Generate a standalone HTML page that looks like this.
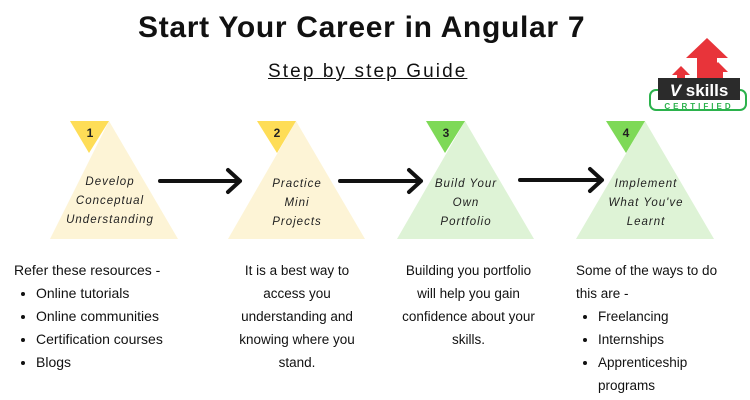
<!DOCTYPE html>
<html><head><meta charset="utf-8"><style>
body{margin:0;width:750px;height:400px;background:#fff;overflow:hidden;font-family:"Liberation Sans",sans-serif;color:#111}
.t{position:absolute;white-space:nowrap}
ul{margin:0;padding-left:22px}
</style></head><body>
<svg width="750" height="400" style="position:absolute;left:0;top:0">
<polygon points="109,121 50,239 178,239" fill="#fdf4d6"/>
<polygon points="70,121 109,121 89,153" fill="#fedd57"/>
<polygon points="296,121 228,239 365,239" fill="#fdf4d6"/>
<polygon points="257,121 296,121 277,153" fill="#fedd57"/>
<polygon points="465,121 397,239 534,239" fill="#def3d6"/>
<polygon points="426,121 465,121 445,153" fill="#7ed957"/>
<polygon points="645,121 576,239 714,239" fill="#def3d6"/>
<polygon points="606,121 645,121 626,153" fill="#7ed957"/>
<g stroke="#111" stroke-width="4" fill="none" stroke-linecap="round" stroke-linejoin="round">
<path d="M160,181H240M228,170L240,181L228,192"/>
<path d="M340,181H421M409,170L421,181L409,192"/>
<path d="M520,180H602M590,169L602,180L590,191"/>
</g>
<g font-family="Liberation Sans" font-weight="bold" font-size="12" text-anchor="middle" fill="#222">
<text x="90" y="137">1</text><text x="277" y="137">2</text><text x="446" y="137">3</text><text x="626" y="137">4</text>
</g>
<g font-family="Liberation Sans" font-style="italic" font-size="11.5" letter-spacing="1" text-anchor="middle" fill="#222">
<text x="110" y="185">Develop</text><text x="110" y="204">Conceptual</text><text x="110" y="223">Understanding</text>
<text x="297" y="187">Practice</text><text x="297" y="206">Mini</text><text x="297" y="225">Projects</text>
<text x="466" y="187">Build Your</text><text x="466" y="206">Own</text><text x="466" y="225">Portfolio</text>
<text x="646" y="187">Implement</text><text x="646" y="206">What You've</text><text x="646" y="225">Learnt</text>
</g>
<polygon points="707,38 686,58 697,58 697,82 717,82 717,58 728,58" fill="#e8343a"/>
<polygon points="681,66 672,75 677,75 677,84 685,84 685,75 690,75" fill="#e8343a"/>
<polygon points="718,62 708,72 713,72 713,84 723,84 723,72 728,72" fill="#e8343a"/>
<rect x="650" y="90" width="96" height="20" rx="6" fill="#fff" stroke="#2bb24c" stroke-width="2"/>
<rect x="658" y="78" width="82" height="22" fill="#2b2b2b"/>
<text x="699" y="96" font-family="Liberation Sans" font-weight="bold" font-size="17" fill="#fff" text-anchor="middle"><tspan font-style="italic">V</tspan> skills</text>
<text x="699" y="109" font-family="Liberation Sans" font-weight="bold" font-size="8" letter-spacing="3" fill="#2bb24c" text-anchor="middle">CERTIFIED</text>
</svg>
<div class="t" style="left:138px;top:11px;font-size:30px;font-weight:bold;letter-spacing:0.7px">Start Your Career in Angular 7</div>
<div class="t" style="left:268px;top:61px;font-size:19px;letter-spacing:2.1px;text-decoration:underline">Step by step Guide</div>
<div class="t" style="left:14px;top:259px;font-size:14px;line-height:23px">Refer these resources -
<ul><li>Online tutorials</li><li>Online communities</li><li>Certification courses</li><li>Blogs</li></ul></div>
<div class="t" style="left:222px;top:259px;width:150px;text-align:center;font-size:13.5px;line-height:23px;white-space:normal">It is a best way to access you understanding and knowing where you stand.</div>
<div class="t" style="left:396px;top:259px;width:145px;text-align:center;font-size:13.5px;line-height:23px;white-space:normal">Building you portfolio will help you gain confidence about your skills.</div>
<div class="t" style="left:576px;top:259px;font-size:13.5px;line-height:23px">Some of the ways to do<br>this are -
<ul><li>Freelancing</li><li>Internships</li><li>Apprenticeship<br>programs</li></ul></div>
</body></html>
